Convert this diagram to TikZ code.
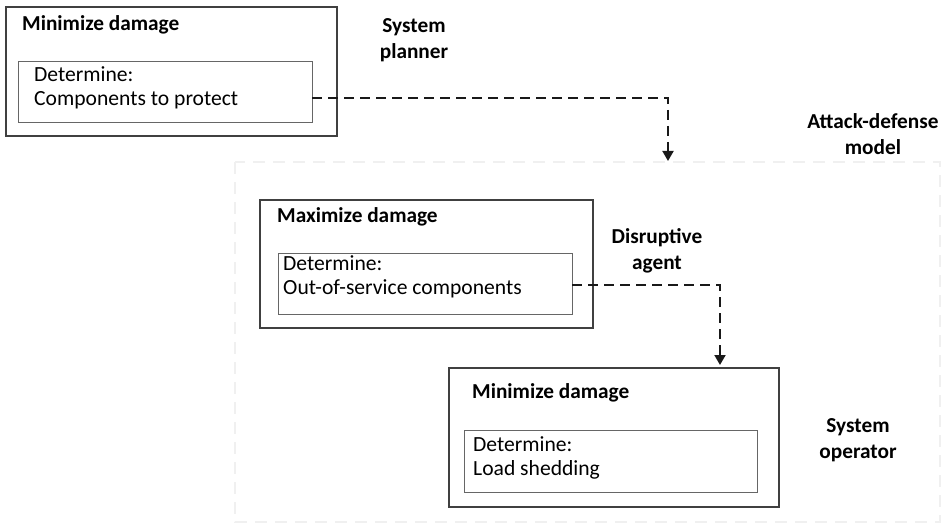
\documentclass[tikz,border=0pt]{standalone}
\usepackage{fontspec}
\setmainfont{Carlito}
\usetikzlibrary{arrows.meta}
\begin{document}
\begin{tikzpicture}[x=1pt,y=-1pt,
  outerbox/.style={draw=black!75, line width=1.2pt, inner sep=0pt},
  innerbox/.style={draw=black!60, line width=1pt, inner sep=0pt},
  title/.style={font=\fontsize{21.3}{25}\selectfont\bfseries, anchor=west, inner sep=0pt},
  body/.style={font=\fontsize{21.6}{24}\selectfont, anchor=north west, align=left, inner sep=0pt},
  role/.style={font=\fontsize{21.3}{26}\selectfont\bfseries, align=center, inner sep=0pt},
  flow/.style={draw=black!90, line width=1.9pt, dash pattern=on 10pt off 6pt, -{Triangle[width=11pt,length=10pt]}},
  model/.style={draw=black!6, line width=1.2pt, dash pattern=on 12pt off 8pt}]
\useasboundingbox (0,0) rectangle (946,532);
% faint model frame
\draw[model] (235,162) rectangle (940,522);
% box 1
\draw[outerbox] (6,7) rectangle (337,136);
\node[title] (t1) at (22,25) {Minimize damage};
\draw[innerbox] (18,62) rectangle (312,123);
\coordinate (i1) at (312,98);
\node[body] (d1) at (34,66) {Determine:\\Components to protect};
% box 2
\draw[outerbox] (260,200) rectangle (593,328);
\node[title] (t2) at (277,217) {Maximize damage};
\draw[innerbox] (278,253) rectangle (572,314);
\coordinate (i2) at (572,285);
\node[body] (d2) at (283,255) {Determine:\\Out-of-service components};
% box 3
\draw[outerbox] (449,368) rectangle (779,507);
\node[title] (t3) at (472,393) {Minimize damage};
\draw[innerbox] (464,430) rectangle (757,492);
\node[body] (d3) at (473,436) {Determine:\\Load shedding};
% role labels
\node[role] (planner) at (414,40) {System\\planner};
\node[role] (model) at (873,134) {Attack-defense\\model};
\node[role] (agent) at (657,251) {Disruptive\\agent};
\node[role] (operator) at (858,440) {System\\operator};
% arrows
\coordinate (a1) at (668,161);
\coordinate (a2) at (720,365);
\draw[flow] (i1) -| (a1);
\draw[flow] (i2) -| (a2);
\end{tikzpicture}
\end{document}
